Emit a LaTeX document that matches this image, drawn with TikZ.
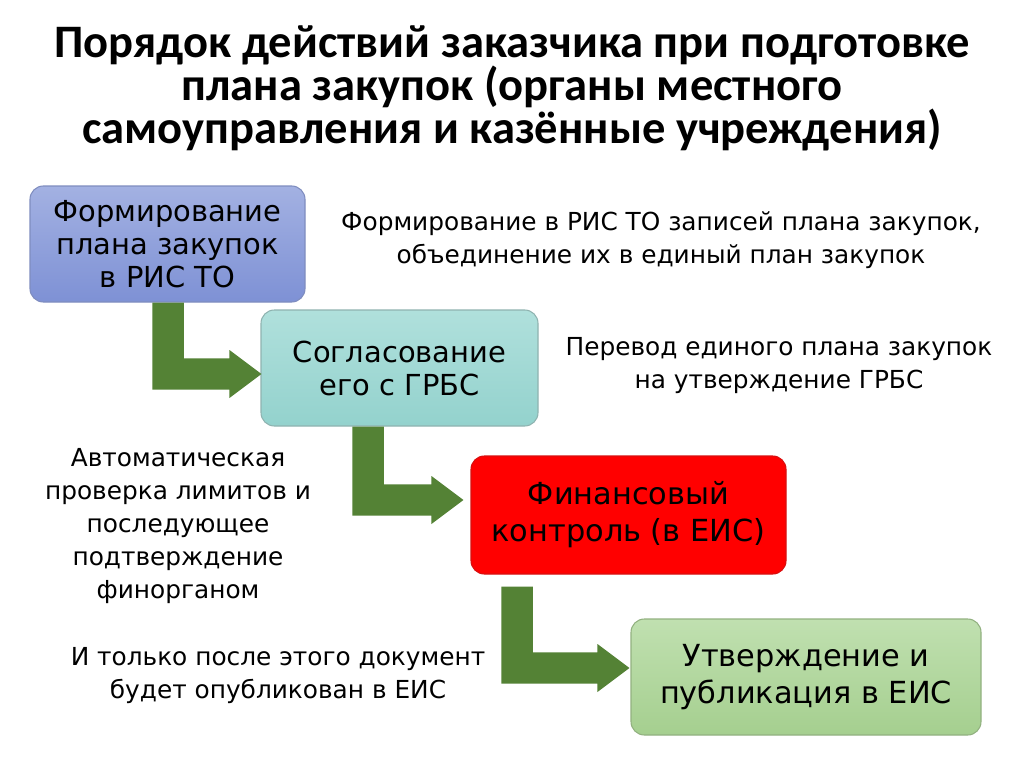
\documentclass[tikz,border=0pt]{standalone}
\usepackage{fontspec}
\setmainfont{DejaVu Sans}
\newfontfamily\titlefont{Carlito}
\usetikzlibrary{calc}
\definecolor{arrowgreen}{HTML}{548235}
\definecolor{b1top}{HTML}{A3B1E2}
\definecolor{b1bot}{HTML}{7E91D5}
\definecolor{b1edge}{HTML}{7F8DBF}
\definecolor{b2top}{HTML}{B0E0DC}
\definecolor{b2bot}{HTML}{93D2CD}
\definecolor{b2edge}{HTML}{8FB3B0}
\definecolor{b3fill}{HTML}{FF0000}
\definecolor{b3edge}{HTML}{D81010}
\definecolor{b4top}{HTML}{C0E0B0}
\definecolor{b4bot}{HTML}{A5CF8F}
\definecolor{b4edge}{HTML}{92B180}
\tikzset{
  box/.style={rectangle, rounded corners=10pt, align=center, line width=0.8pt,
    font=\fontsize{21.7}{24.75}\selectfont, inner sep=0pt},
  bigbox/.style={box, font=\fontsize{22.8}{27.75}\selectfont},
  side/.style={align=center, font=\fontsize{18.6}{24.75}\selectfont, inner sep=0pt},
  title/.style={align=center, font=\titlefont\bfseries\fontsize{34.9}{32.25}\selectfont, inner sep=0pt},
}
% elbow arrow: #1 = top-left of vertical bar, #2 = tip
\newcommand\elbow[2]{%
  \fill[arrowgreen] let \p1=(#1), \p2=(#2) in
    (\x1,\y1) -- (\x1+23.5pt,\y1) -- (\x1+23.5pt,\y2+11.75pt) -- (\x2-24pt,\y2+11.75pt)
    -- (\x2-24pt,\y2+18pt) -- (\x2,\y2) -- (\x2-24pt,\y2-18pt) -- (\x2-24pt,\y2-11.75pt)
    -- (\x1,\y2-11.75pt) -- cycle;}
\begin{document}
\begin{tikzpicture}[x=0.75pt,y=-0.75pt]
\useasboundingbox[fill=white] (0,0) rectangle (1024,767);

\node[title] (title) at (512,88) {Порядок действий заказчика при подготовке\\плана закупок (органы местного\\самоуправления и казённые учреждения)};

\node[box, draw=b1edge, top color=b1top, bottom color=b1bot, minimum width=206.25pt, minimum height=87pt] (b1) at (167.5,244) {Формирование\\плана закупок\\в РИС ТО};
\node[box, draw=b2edge, top color=b2top, bottom color=b2bot, minimum width=207.75pt, minimum height=87pt] (b2) at (399.5,368) {Согласование\\его с ГРБС};
\node[bigbox, draw=b3edge, fill=b3fill, minimum width=236.25pt, minimum height=88.5pt] (b3) at (628.5,515) {Финансовый\\контроль (в ЕИС)};
\node[bigbox, draw=b4edge, top color=b4top, bottom color=b4bot, minimum width=262.5pt, minimum height=87pt] (b4) at (806,677) {Утверждение и\\публикация в ЕИС};

\node[side] (t1) at (661,240) {Формирование в РИС ТО записей плана закупок,\\объединение их в единый план закупок};
\node[side] (t2) at (779,366) {Перевод единого плана закупок\\на утверждение ГРБС};
\node[side] (t3) at (178,526) {Автоматическая\\проверка лимитов и\\последующее\\подтверждение\\финорганом};
\node[side] (t4) at (278,676) {И только после этого документ\\будет опубликован в ЕИС};

\coordinate (a1s) at ($(b1.south west)+(123,0)$);
\coordinate (a1t) at ($(b2.west)+(1,6)$);
\coordinate (a2s) at ($(b2.south west)+(92,0)$);
\coordinate (a2t) at ($(b3.west)+(-7,-15)$);
\coordinate (a3s) at ($(b3.south west)+(31,12)$);
\coordinate (a3t) at ($(b4.west)+(-1,-9)$);
\elbow{a1s}{a1t}
\elbow{a2s}{a2t}
\elbow{a3s}{a3t}
\end{tikzpicture}
\end{document}
